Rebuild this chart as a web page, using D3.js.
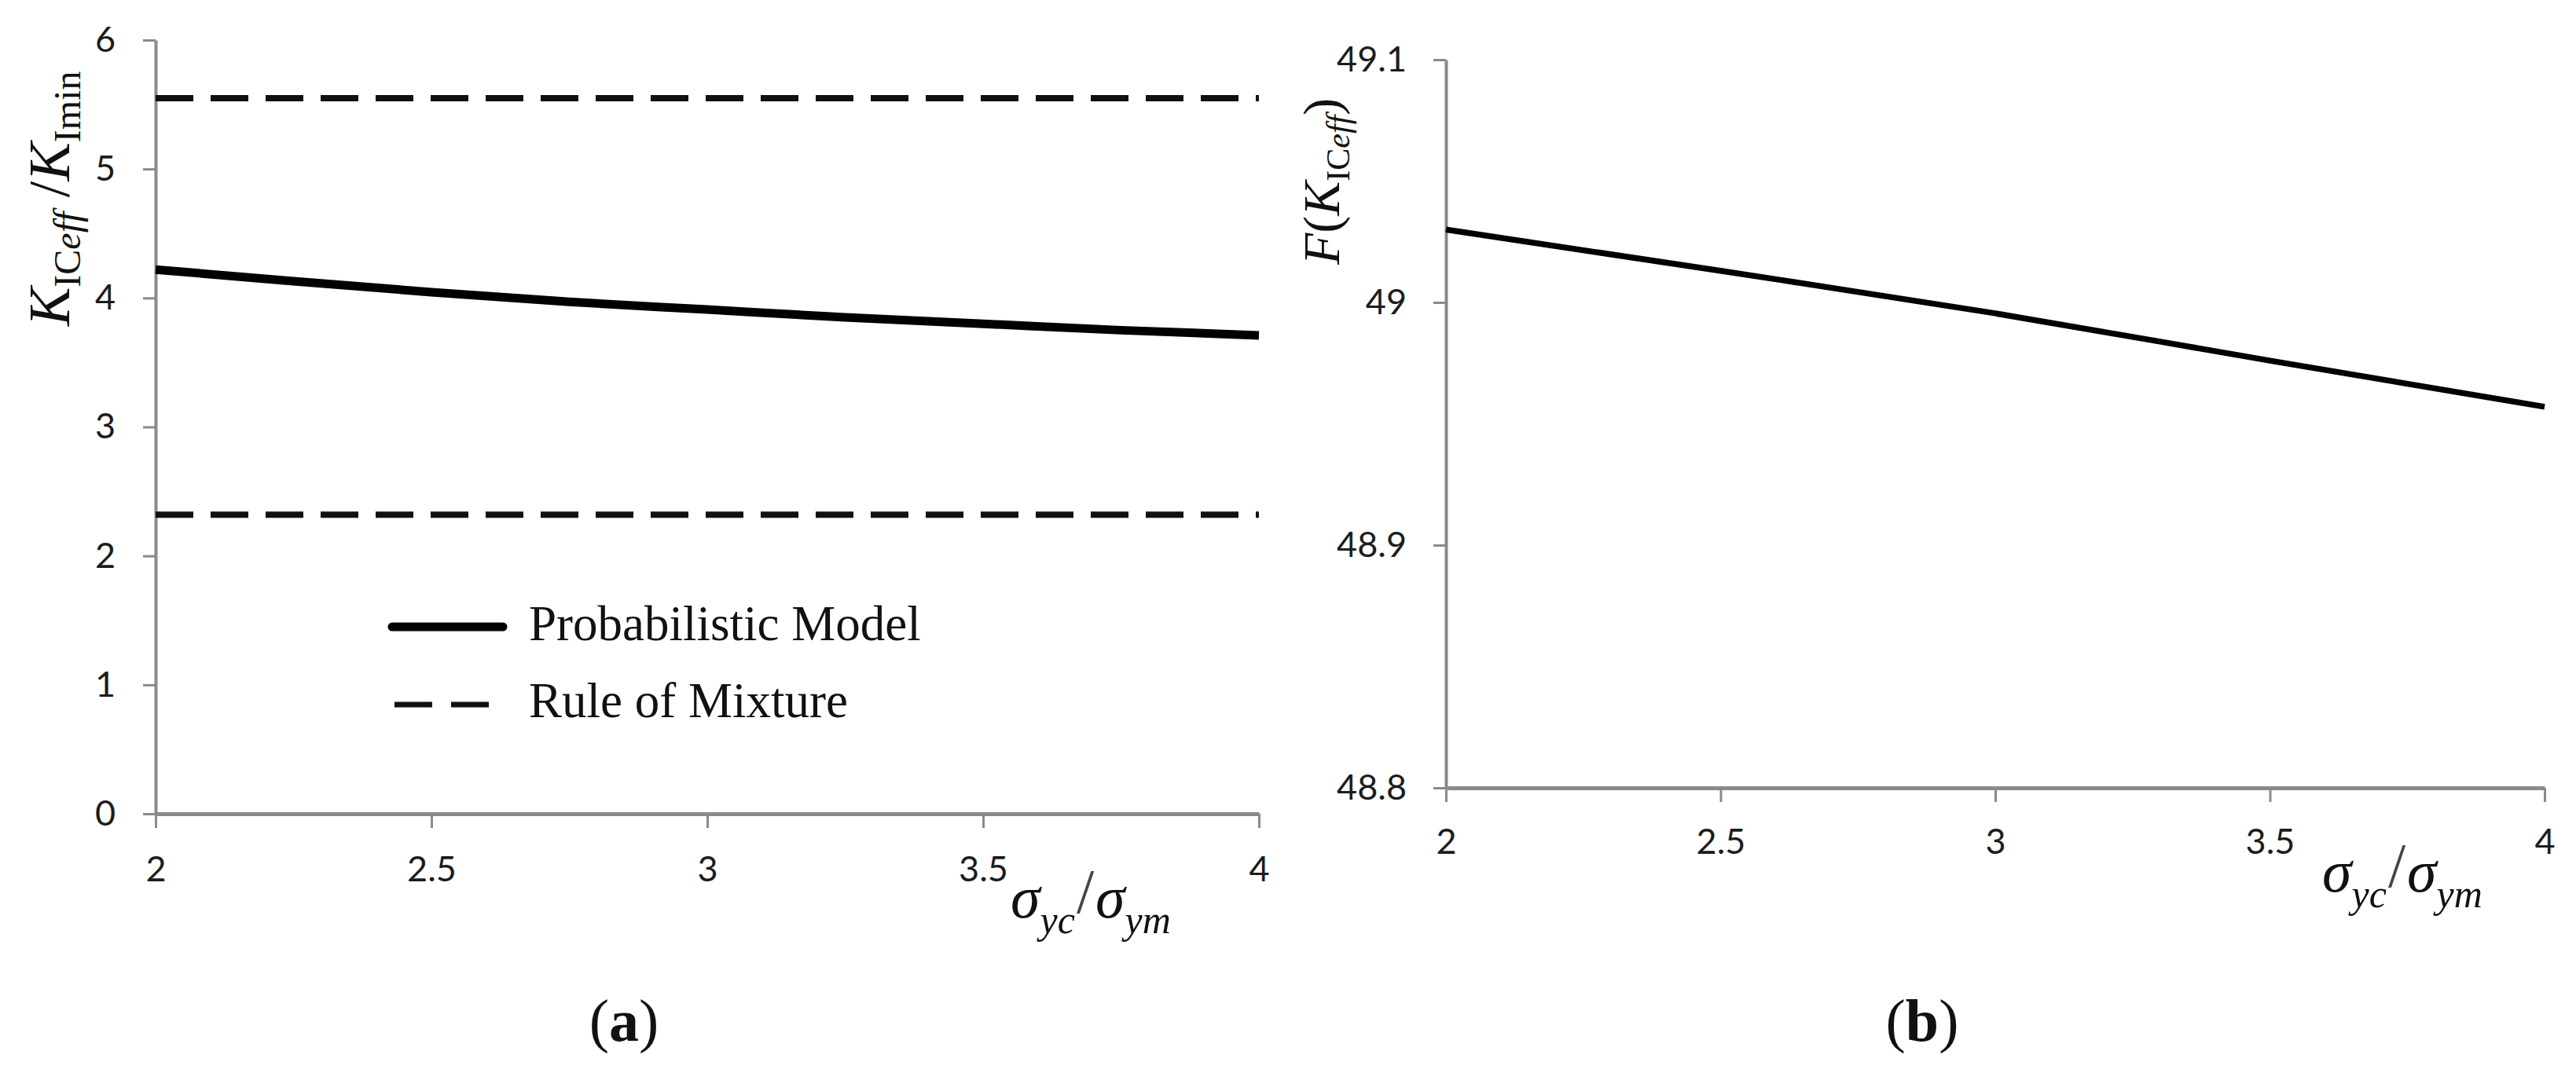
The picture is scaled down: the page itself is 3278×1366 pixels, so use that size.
<!DOCTYPE html>
<html>
  <head>
    <meta charset="utf-8">
    <script src="https://d3js.org/d3.v7.min.js"></script>
    <title>KIC eff vs yield stress ratio</title>
    <style type="text/css">
      body { margin: 0; background: #fff; }
      svg { display: block; }
      .axis .domain { stroke: #8a8a8a; }
      .axis line { stroke: #8a8a8a; stroke-width: 3; }
      .axis text { fill: #1c1c1c; font-family: Lato, "Open Sans", sans-serif; font-size: 45px; }
      .title { font-family: "Liberation Serif", "Times New Roman", serif; fill: #111; }
    </style>
  </head>
  <body>
    <div id="chart"></div>
    <script type="text/javascript">
      // panel (a): normalised effective toughness
      var ratioA = [2, 2.25, 2.5, 2.75, 3, 3.25, 3.5, 3.75, 4];
      var probModel = [4.22, 4.13, 4.045, 3.97, 3.91, 3.85, 3.80, 3.75, 3.71];
      var ruleOfMixture = [5.55, 2.32];   // upper and lower bound
      var yTicksA = [0, 1, 2, 3, 4, 5, 6];

      // panel (b): F(KICeff)
      var ratioB = [2, 2.5, 3, 3.5, 4];
      var cdfB = [49.030, 49.013, 48.9955, 48.976, 48.957];
      var yTicksB = [48.8, 48.9, 49, 49.1];

      var xTicks = [2, 2.5, 3, 3.5, 4];
      var legendLabels = ["Probabilistic Model", "Rule of Mixture"];

      var width = 3278,
          height = 1366;

      var svg = d3.select("#chart")
        .append("svg")
        .attr("width", width)
        .attr("height", height);

      var fmt = function(d) { return String(+d.toFixed(2)); };

      // ---------- panel (a) ----------
      var xA = d3.scaleLinear().domain([2, 4]).range([198, 1602]),
          yA = d3.scaleLinear().domain([0, 6]).range([1036, 51]);

      svg.append("g")
        .attr("class", "axis")
        .attr("transform", "translate(0," + yA(0) + ")")
        .call(d3.axisBottom(xA).tickValues(xTicks).tickSize(18).tickSizeOuter(0).tickPadding(36).tickFormat(fmt))
        .call(function(g) { g.select(".domain").attr("stroke-width", 5); });

      svg.append("g")
        .attr("class", "axis")
        .attr("transform", "translate(" + xA(2) + ",0)")
        .call(d3.axisLeft(yA).tickValues(yTicksA).tickSize(16).tickSizeOuter(0).tickPadding(35).tickFormat(fmt))
        .call(function(g) { g.select(".domain").attr("stroke-width", 4); });

      svg.selectAll(".rule")
        .data(ruleOfMixture)
        .enter()
          .append("line")
          .attr("class", "rule")
          .attr("x1", xA(2))
          .attr("x2", xA(4))
          .attr("y1", function(d) { return yA(d); })
          .attr("y2", function(d) { return yA(d); })
          .attr("stroke", "#111")
          .attr("stroke-width", 8)
          .attr("stroke-dasharray", "48,22");

      var lineA = d3.line()
        .x(function(d, i) { return xA(ratioA[i]); })
        .y(function(d) { return yA(d); })
        .curve(d3.curveMonotoneX);

      svg.append("path")
        .datum(probModel)
        .attr("d", lineA)
        .attr("fill", "none")
        .attr("stroke", "#000")
        .attr("stroke-width", 11);

      // legend
      var legend = svg.append("g");
      legend.append("line")
        .attr("x1", 499).attr("x2", 640).attr("y1", 798).attr("y2", 798)
        .attr("stroke", "#000").attr("stroke-width", 11).attr("stroke-linecap", "round");
      legend.append("line")
        .attr("x1", 502).attr("x2", 622).attr("y1", 897).attr("y2", 897)
        .attr("stroke", "#111").attr("stroke-width", 7).attr("stroke-dasharray", "48,24");
      legend.selectAll("text")
        .data(legendLabels)
        .enter()
          .append("text")
          .attr("class", "title")
          .attr("x", 673)
          .attr("y", function(d, i) { return 815 + i * 98; })
          .attr("font-size", 63)
          .text(function(d) { return d; });

      // y title (a)
      var ytA = svg.append("text")
        .attr("class", "title")
        .attr("transform", "translate(88,415) rotate(-90)")
        .attr("font-size", 74);
      ytA.append("tspan").attr("font-style", "italic").text("K");
      ytA.append("tspan").attr("font-size", 48).attr("dy", 14).text("IC");
      ytA.append("tspan").attr("font-size", 48).attr("font-style", "italic").text("eff");
      ytA.append("tspan").attr("dy", -14).text(" /");
      ytA.append("tspan").attr("font-style", "italic").text("K");
      ytA.append("tspan").attr("font-size", 48).attr("dy", 14).text("Imin");

      // ---------- panel (b) ----------
      var xB = d3.scaleLinear().domain([2, 4]).range([1840, 3238]),
          yB = d3.scaleLinear().domain([48.8, 49.1]).range([1003, 76]);

      svg.append("g")
        .attr("class", "axis")
        .attr("transform", "translate(0," + yB(48.8) + ")")
        .call(d3.axisBottom(xB).tickValues(xTicks).tickSize(18).tickSizeOuter(0).tickPadding(34).tickFormat(fmt))
        .call(function(g) { g.select(".domain").attr("stroke-width", 5); });

      svg.append("g")
        .attr("class", "axis")
        .attr("transform", "translate(" + xB(2) + ",0)")
        .call(d3.axisLeft(yB).tickValues(yTicksB).tickSize(16).tickSizeOuter(0).tickPadding(34).tickFormat(fmt))
        .call(function(g) { g.select(".domain").attr("stroke-width", 4); });

      var lineB = d3.line()
        .x(function(d, i) { return xB(ratioB[i]); })
        .y(function(d) { return yB(d); })
        .curve(d3.curveMonotoneX);

      svg.append("path")
        .datum(cdfB)
        .attr("d", lineB)
        .attr("fill", "none")
        .attr("stroke", "#000")
        .attr("stroke-width", 7.5);

      var ytB = svg.append("text")
        .attr("class", "title")
        .attr("transform", "translate(1704,337) rotate(-90)")
        .attr("font-size", 66);
      ytB.append("tspan").attr("font-style", "italic").text("F");
      ytB.append("tspan").text("(");
      ytB.append("tspan").attr("font-style", "italic").text("K");
      ytB.append("tspan").attr("font-size", 42).attr("dy", 13).text("IC");
      ytB.append("tspan").attr("font-size", 42).attr("font-style", "italic").text("eff");
      ytB.append("tspan").attr("dy", -13).text(")");

      // x titles and captions
      function sigmaTitle(x, y) {
        var t = svg.append("text")
          .attr("class", "title")
          .attr("x", x)
          .attr("y", y)
          .attr("font-size", 76)
          .attr("font-style", "italic");
        t.append("tspan").text("σ");
        t.append("tspan").attr("font-size", 50).attr("dy", 20).text("yc");
        t.append("tspan").attr("font-style", "normal").attr("font-size", 80).attr("font-weight", 300)
          .attr("fill", "#444").attr("dy", -26).attr("dx", 2).text("/");
        t.append("tspan").attr("dy", 6).attr("dx", 2).text("σ");
        t.append("tspan").attr("font-size", 50).attr("dy", 20).text("ym");
      }
      sigmaTitle(1286, 1168);
      sigmaTitle(2955, 1135);

      function caption(x, letter) {
        var t = svg.append("text")
          .attr("class", "title")
          .attr("x", x)
          .attr("y", 1325)
          .attr("text-anchor", "middle")
          .attr("font-size", 76);
        t.append("tspan").text("(");
        t.append("tspan").attr("font-weight", "bold").text(letter);
        t.append("tspan").text(")");
      }
      caption(794, "a");
      caption(2446, "b");
    </script>
  </body>
</html>
